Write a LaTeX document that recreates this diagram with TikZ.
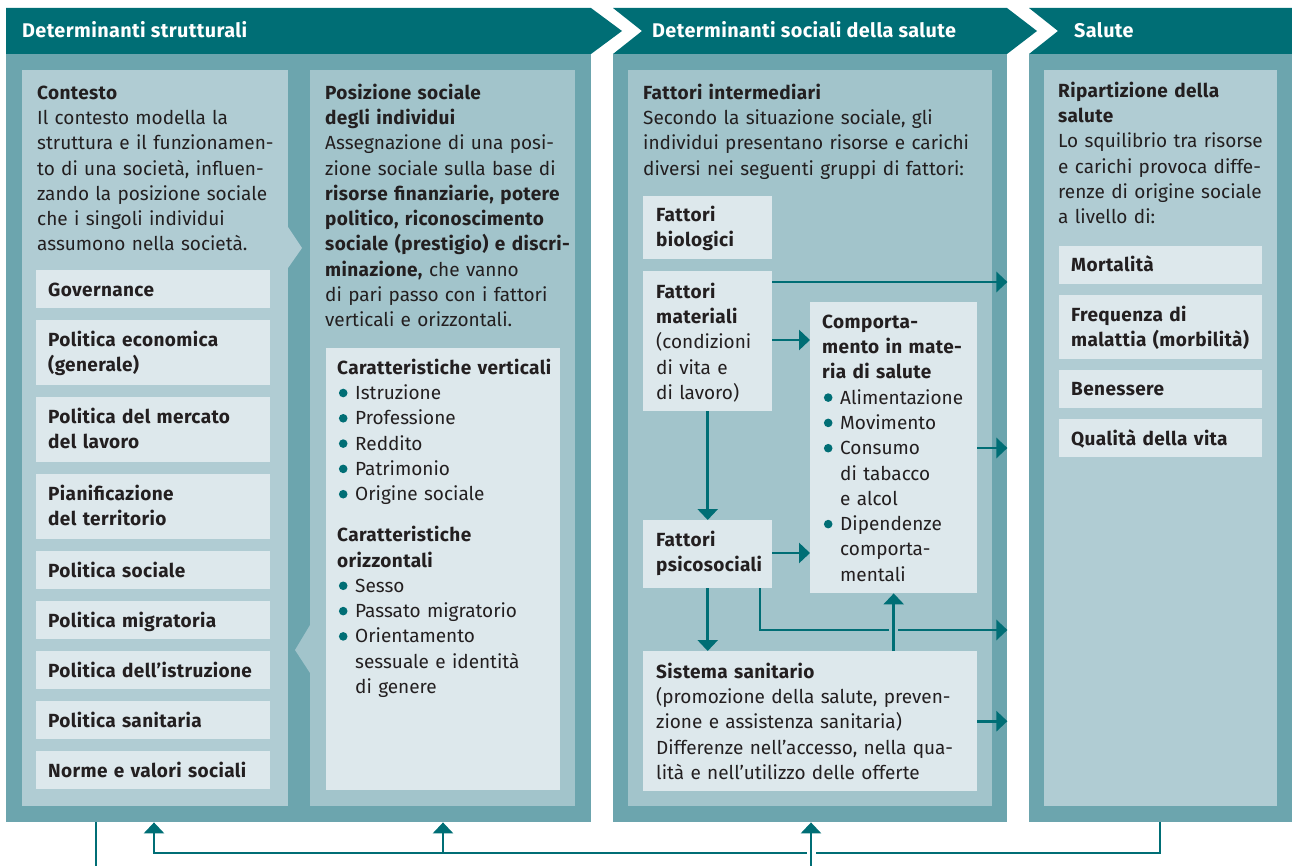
\documentclass[tikz,border=0pt]{standalone}
\usepackage{fontspec}
\setmainfont[BoldFeatures={LetterSpace=2}]{Fira Sans}
\usetikzlibrary{arrows.meta}

\definecolor{headteal}{RGB}{0,110,117}
\definecolor{panelteal}{RGB}{108,165,174}
\definecolor{paneltone}{RGB}{176,204,211}
\definecolor{paneldeep}{RGB}{162,196,203}
\definecolor{tilepale}{RGB}{221,232,236}
\definecolor{inkdark}{RGB}{35,31,32}

\newcommand{\bul}{\makebox[18pt][l]{\hspace{1.7pt}\tikz[baseline=0pt]\fill[headteal] (0pt,6.5pt) circle (4.3pt);}}
\newcommand{\ind}{\hspace*{18pt}}

\tikzset{
  band/.style={fill=headteal},
  bandtext/.style={anchor=base west, inner sep=0pt, text=white, font=\bfseries\fontsize{19.8}{25.3}\selectfont},
  panel/.style={fill=panelteal, anchor=north west, inner sep=0pt, minimum height=768pt},
  column/.style={anchor=north west, inner xsep=15pt, inner ysep=0pt, text height=29pt, text depth=707pt, align=left, text=inkdark, font=\fontsize{19}{25.3}\selectfont},
  tile/.style={fill=tilepale, anchor=north west, inner xsep=12pt, inner ysep=0pt, text height=26pt, align=left, text=inkdark, font=\fontsize{19}{25.3}\selectfont},
  item/.style={tile, font=\bfseries\fontsize{19}{25.3}\selectfont},
  govtile/.style={item, text width=210pt},
  link/.style={draw=headteal, line width=2.7pt, -{Triangle[length=11pt,width=20pt]}},
  wire/.style={draw=headteal, line width=2.7pt}
}

\begin{document}
\begin{tikzpicture}[x=1pt, y=-1pt]
\useasboundingbox (0,0) rectangle (1292,866);

% header bands
\fill[band] (6,8) -- (591,8) -- (622,31) -- (591,54) -- (6,54) -- cycle;
\fill[band] (613,8) -- (1007,8) -- (1037,31) -- (1007,54) -- (613,54) -- (642,31) -- cycle;
\fill[band] (1029,8) -- (1292,8) -- (1292,54) -- (1029,54) -- (1058,31) -- cycle;
\node[bandtext] (hstrut) at (22,38) {Determinanti strutturali};
\node[bandtext] (hsoc) at (652,38) {Determinanti sociali della salute};
\node[bandtext] (hsal) at (1074,38) {Salute};

% panels
\node[panel, minimum width=585pt] (strut) at (6,54) {};
\node[panel, minimum width=394pt] (soc) at (613,54) {};
\node[panel, minimum width=263pt] (salute) at (1029,54) {};

% determinanti strutturali
\node[column, fill=paneltone, text width=236pt] (contesto) at (22,70) {\textbf{Contesto}\\
\mbox{Il contesto modella la}\\
\mbox{struttura e il funzionamen-}\\
\mbox{to di una società, influen-}\\
\mbox{zando la posizione sociale}\\
\mbox{che i singoli individui}\\
\mbox{assumono nella società.}};
\fill[paneltone] (288,227) -- (302,248) -- (288,268) -- cycle;

\node[column, fill=paneldeep, text width=235pt] (posizione) at (310,70) {\textbf{Posizione sociale}\\
\textbf{degli individui}\\
\mbox{Assegnazione di una posi-}\\
\mbox{zione sociale sulla base di}\\
\mbox{\textbf{risorse finanziarie, potere}}\\
\mbox{\textbf{politico, riconoscimento}}\\
\mbox{\textbf{sociale (prestigio) e discri-}}\\
\mbox{\textbf{minazione,} che vanno}\\
\mbox{di pari passo con i fattori}\\
\mbox{verticali e orizzontali.}};
\fill[paneldeep] (310,625) -- (295,650) -- (310,673) -- cycle;

\node[govtile, text depth=12pt] (gov) at (36,270) {Governance};
\node[govtile, text depth=39pt] (econ) at (36,320) {Politica economica\\(generale)};
\node[govtile, text depth=39pt] (lavoro) at (36,397) {\mbox{Politica del mercato}\\del lavoro};
\node[govtile, text depth=39pt] (territorio) at (36,474) {Pianificazione\\del territorio};
\node[govtile, text depth=12pt] (sociale) at (36,551) {Politica sociale};
\node[govtile, text depth=12pt] (migra) at (36,601) {Politica migratoria};
\node[govtile, text depth=12pt] (istru) at (36,651) {\mbox{Politica dell’istruzione}};
\node[govtile, text depth=12pt] (sanit) at (36,701) {Politica sanitaria};
\node[govtile, text depth=12pt] (norme) at (36,751) {\mbox{Norme e valori sociali}};

\node[tile, inner xsep=11pt, text width=212pt, text depth=416pt] (caratt) at (326,348) {\mbox{\textbf{Caratteristiche verticali}}\\
\bul Istruzione\\
\bul Professione\\
\bul Reddito\\
\bul Patrimonio\\
\bul Origine sociale\\[15.7pt]
\textbf{Caratteristiche}\\
\textbf{orizzontali}\\
\bul Sesso\\
\bul Passato migratorio\\
\bul Orientamento\\
\ind sessuale e identità\\
\ind di genere};

% determinanti sociali della salute
\node[column, fill=paneldeep, text width=334pt] (intermed) at (628,70) {\textbf{Fattori intermediari}\\
\mbox{Secondo la situazione sociale, gli}\\
\mbox{individui presentano risorse e carichi}\\
\mbox{diversi nei seguenti gruppi di fattori:}};

\node[item, inner xsep=13pt, text width=103pt, text height=25pt, text depth=38pt] (biologici) at (643,196) {Fattori\\biologici};
\node[item, inner xsep=13pt, text width=103pt, text height=27pt, text depth=113pt] (materiali) at (643,271) {Fattori\\materiali\\\textmd{(condizioni}\\\textmd{di vita e}\\\textmd{di lavoro)}};
\node[tile, text width=143pt, text depth=265pt] (comport) at (810,302) {\textbf{Comporta-}\\
\mbox{\textbf{mento in mate-}}\\
\textbf{ria di salute}\\
\mbox{\bul Alimentazione}\\
\bul Movimento\\
\bul Consumo\\
\ind di tabacco\\
\ind e alcol\\
\bul Dipendenze\\
\ind comporta-\\
\ind mentali};
\node[item, inner xsep=13pt, text width=103pt, text depth=42pt] (psico) at (643,520) {Fattori\\\mbox{psicosociali}};
\node[tile, inner xsep=13pt, text width=308pt, text height=27pt, text depth=113pt] (sanitario) at (643,651) {\textbf{Sistema sanitario}\\
\mbox{(promozione della salute, preven-}\\
\mbox{zione e assistenza sanitaria)}\\
\mbox{Differenze nell’accesso, nella qua-}\\
\mbox{lità e nell’utilizzo delle offerte}};

\draw[link] (materiali.east |- 0,282) -- (soc.east |- 0,282);
\draw[link] (materiali.east |- 0,340) -- (comport.west |- 0,340);
\draw[link] (comport.east |- 0,448) -- (soc.east |- 0,448);
\draw[link] (materiali.south) -- (psico.north);
\draw[link] (psico.east |- 0,553) -- (comport.west |- 0,553);
\draw[link] (psico.south) -- (psico.south |- sanitario.north);
\draw[link] (psico.south -| 760,0) -- (760,630) -- (soc.east |- 0,630);
\draw[paneldeep, line width=9pt] (893.5,626) -- (893.5,634);
\draw[link] (sanitario.north -| comport.south) -- (comport.south);
\draw[link] (sanitario.east) -- (sanitario.east -| soc.east);

% salute
\node[column, fill=paneltone, inner xsep=14pt, text width=205pt, text height=27pt, text depth=709pt] (ripart) at (1044,70) {\textbf{Ripartizione della}\\
\textbf{salute}\\
\mbox{Lo squilibrio tra risorse}\\
\mbox{e carichi provoca diffe-}\\
\mbox{renze di origine sociale}\\
a livello di:};
\node[item, text width=179pt, text height=25pt, text depth=13pt] (mortal) at (1059,246) {Mortalità};
\node[item, text width=179pt, text depth=38pt] (freq) at (1059,295) {Frequenza di\\\mbox{malattia (morbilità)}};
\node[item, text width=179pt, text height=25pt, text depth=13pt] (benessere) at (1059,370) {Benessere};
\node[item, text width=179pt, text depth=12pt] (qualita) at (1059,419) {Qualità della vita};

% feedback below
\coordinate (outdown) at (96,866);
\coordinate (inup) at (811,866);
\coordinate (loopR) at (1160,853);
\coordinate (loopL) at (154,853);
\coordinate (loopM) at (443,853);
\draw[wire] (strut.south -| outdown) -- (outdown);
\draw[link] (salute.south -| loopR) -- (loopR) -- (loopL) -- (strut.south -| loopL);
\draw[link] (loopM) -- (strut.south -| loopM);
\draw[white, line width=9pt] (811,849) -- (811,857);
\draw[link] (inup) -- (soc.south -| inup);

\end{tikzpicture}
\end{document}
